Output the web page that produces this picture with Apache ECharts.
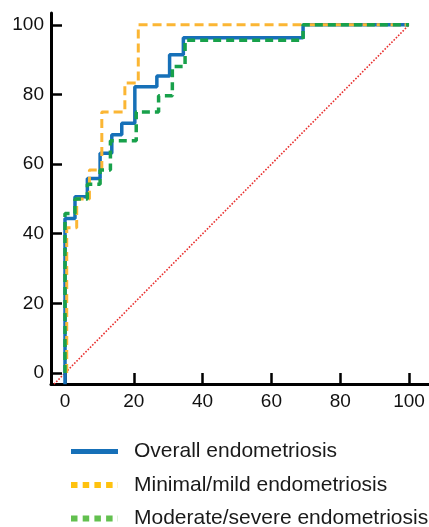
<!DOCTYPE html>
<html>
<head>
<meta charset="utf-8">
<script src="https://cdn.jsdelivr.net/npm/echarts@6/dist/echarts.min.js"></script>
<style>
  html, body { margin: 0; padding: 0; background: #fff; }
  #chart { width: 429px; height: 527px; }
</style>
</head>
<body>
<div id="chart"></div>
<script>
// ROC curves: x = 100 - specificity (%), y = sensitivity (%)
const tickValues = [0, 20, 40, 60, 80, 100]

const overallX = [0, 0, 2.9, 6.5, 10.2, 13.6, 16.5, 20.3, 26.7, 30.4, 34.4, 69.2, 100]
const overallY = [-3.2, 44.4, 50.6, 55.9, 63.1, 68.4, 71.7, 82.2, 85.3, 91.4, 96.3, 100, 100]

const mildX = [0.5, 0.5, 3.4, 7.1, 10.7, 17.4, 21.3, 100]
const mildY = [0, 41.7, 50, 58.3, 75, 83.3, 100, 100]

const severeX = [0, 0, 2.9, 6.5, 10.2, 13.2, 20.7, 27.2, 31.2, 34.9, 69.2, 100]
const severeY = [0, 45.8, 50, 54.2, 58.3, 66.7, 75, 79.6, 88, 95.6, 100, 100]

const refX = [-3.2, 100]
const refY = [-3.2, 100]

const names = ['Overall endometriosis', 'Minimal/mild endometriosis', 'Moderate/severe endometriosis']

const zip = (xs, ys) => xs.map((x, i) => [x, ys[i]])

const chart = echarts.init(document.getElementById('chart'))

const axisCommon = {
  type: 'value',
  splitLine: { show: false },
  axisLine: { show: true, onZero: false, lineStyle: { color: '#000', width: 3 } },
  axisTick: { show: true, inside: true, length: 11, lineStyle: { color: '#000', width: 2.5 }, customValues: tickValues },
  axisLabel: { color: '#111', fontSize: 19, fontFamily: 'Liberation Sans, Arial, sans-serif', customValues: tickValues },
}

const hideDot = { opacity: 0 }

chart.setOption({
  animation: false,
  backgroundColor: '#fff',
  grid: { left: 51, right: 0, top: 13, bottom: 143, containLabel: false },
  xAxis: {
    ...axisCommon,
    min: -4.07,
    max: 105.8,
    axisLabel: { ...axisCommon.axisLabel, margin: 8 },
  },
  yAxis: {
    ...axisCommon,
    min: -3.16,
    max: 103.4,
    axisLabel: { ...axisCommon.axisLabel, margin: 7 },
  },
  legend: {
    orient: 'vertical',
    left: 68,
    top: 441,
    height: 120,
    padding: 0,
    itemWidth: 47,
    itemHeight: 14,
    itemGap: 12.5,
    selectedMode: false,
    textStyle: {
      fontSize: 21,
      color: '#1a1a1a',
      fontFamily: 'Liberation Sans, Arial, sans-serif',
      padding: [0, 0, 0, 11],
    },
    data: [
      { name: names[0], itemStyle: hideDot, lineStyle: { color: '#1670b8', width: 5, type: 'solid' } },
      { name: names[1], itemStyle: hideDot, lineStyle: { color: '#ffc20e', width: 6, type: [6.5, 5.2] } },
      { name: names[2], itemStyle: hideDot, lineStyle: { color: '#62c04f', width: 6, type: [6.5, 5.2] } },
    ],
  },
  series: [
    {
      type: 'line',
      data: zip(refX, refY),
      symbol: 'none',
      silent: true,
      lineStyle: { color: '#e8302f', width: 1.6, type: [1.6, 1.6] },
      z: 1,
    },
    {
      name: names[0],
      type: 'line',
      step: 'end',
      data: zip(overallX, overallY),
      symbol: 'none',
      itemStyle: { color: '#1670b8' },
      lineStyle: { color: '#1670b8', width: 3.5 },
      z: 2,
    },
    {
      name: names[1],
      type: 'line',
      step: 'end',
      data: zip(mildX, mildY),
      symbol: 'none',
      itemStyle: { color: '#fbb634' },
      lineStyle: { color: '#fbb634', width: 3, type: [9, 5] },
      z: 3,
    },
    {
      name: names[2],
      type: 'line',
      step: 'end',
      data: zip(severeX, severeY),
      symbol: 'none',
      itemStyle: { color: '#18a14b' },
      lineStyle: { color: '#18a14b', width: 3.5, type: [8, 5] },
      z: 4,
    },
  ],
})
</script>
</body>
</html>
